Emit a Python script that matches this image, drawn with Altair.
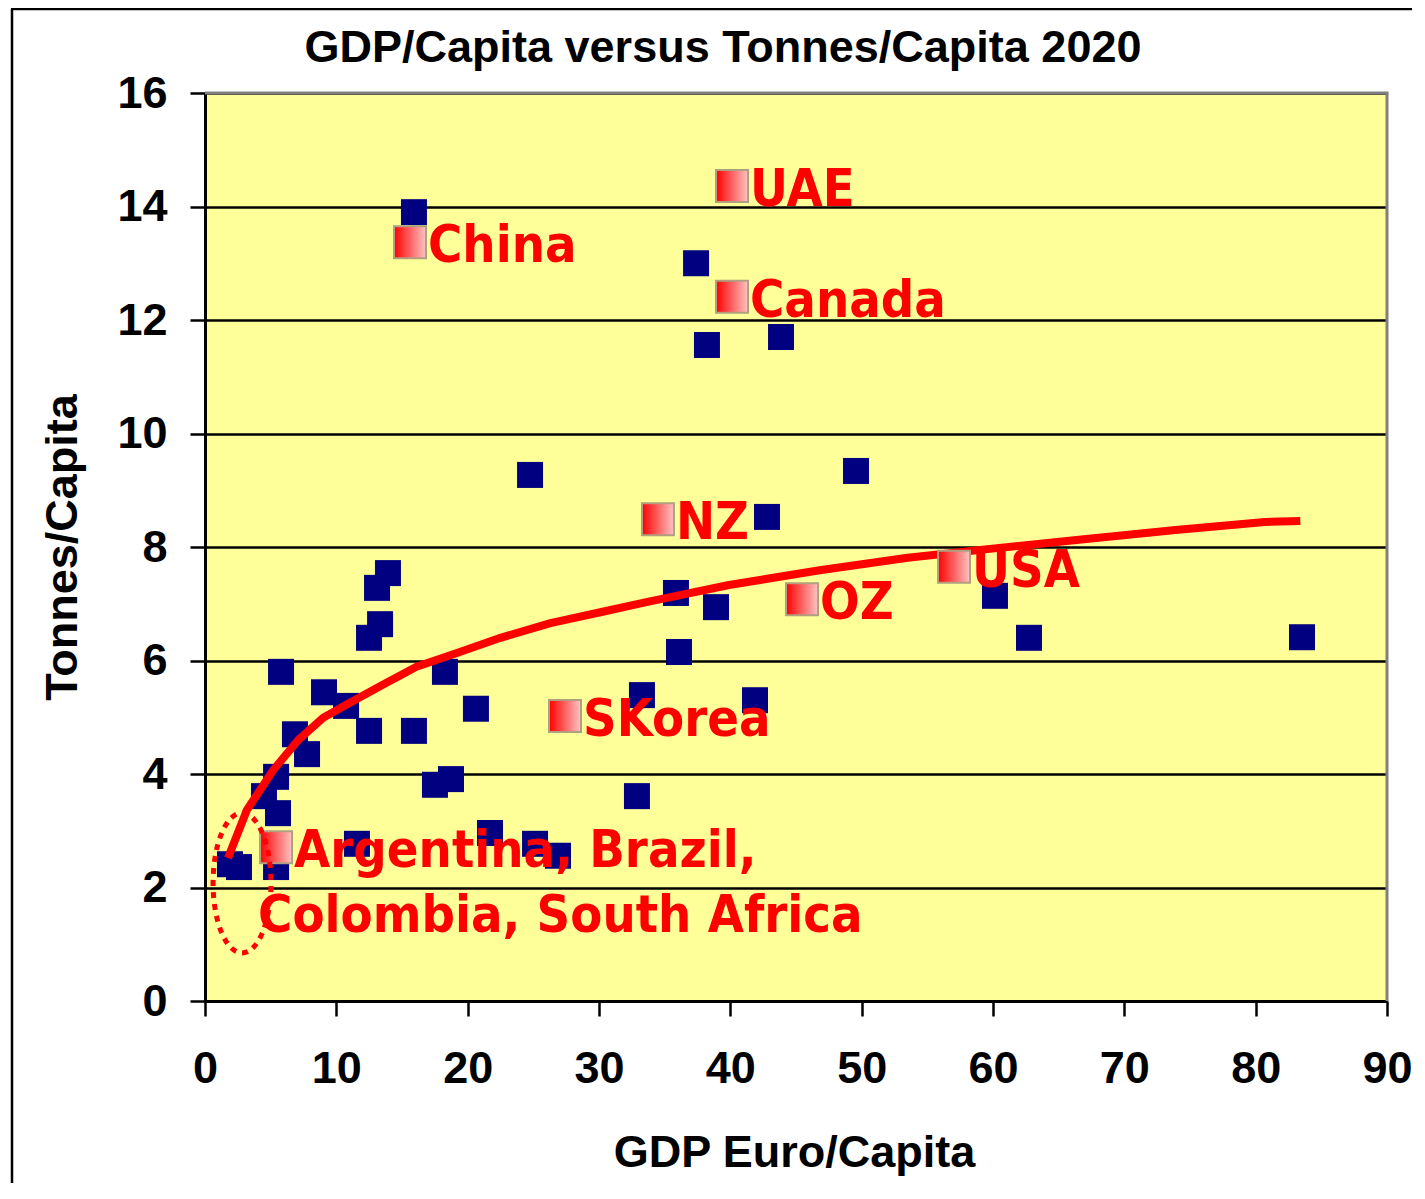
import altair as alt
import pandas as pd

# ---- data ----
gdp = [13.93, 13.10, 13.33, 12.49, 5.79, 9.06, 10.74, 12.49, 15.91, 18.27,
       20.63, 6.85, 7.77, 5.41, 4.49, 5.56, 17.51, 18.73, 11.57, 21.70,
       1.90, 2.59, 5.41, 25.13, 26.88,
       15.91, 37.39, 38.22, 43.86, 24.75, 42.79, 49.57,
       35.86, 38.91, 36.09, 33.27, 41.88, 32.89, 60.15, 62.74, 83.53]
tonnes = [7.54, 7.28, 6.64, 6.40, 5.80, 5.44, 5.20, 4.76, 4.76, 5.80,
          5.15, 4.70, 4.35, 3.95, 3.61, 3.31, 3.81, 3.91, 2.77, 2.96,
          2.41, 2.36, 2.36, 2.77, 2.56,
          13.90, 13.00, 11.56, 11.70, 9.27, 8.53, 9.34,
          7.19, 6.94, 6.15, 5.39, 5.30, 3.61, 7.14, 6.40, 6.41]

trend_gdp = [1.75, 3.2, 5.2, 7.1, 9.0, 11.0, 13.5, 16.1, 19.4, 22.5, 26.3,
             30.1, 33.6, 39.9, 46.8, 53.5, 60.3, 67.1, 73.9, 80.7, 83.4]
trend_tonnes = [2.52, 3.37, 4.07, 4.60, 4.99, 5.25, 5.57, 5.89, 6.15, 6.40, 6.66,
                6.85, 7.03, 7.33, 7.59, 7.81, 7.98, 8.14, 8.30, 8.44, 8.46]

label_names = ["China", "UAE", "Canada", "NZ", "SKorea", "OZ", "USA", "Argentina, Brazil,"]
label_gdp = [15.61, 40.13, 40.13, 34.49, 27.41, 45.46, 57.03, 5.41]
label_tonnes = [13.37, 14.36, 12.41, 8.49, 5.02, 7.08, 7.65, 2.71]
second_line = ["Colombia, South Africa"]
second_gdp = [5.41]
second_tonnes = [2.71]

ellipse_gdp = [2.82]
ellipse_tonnes = [2.08]

title_text = ["GDP/Capita versus Tonnes/Capita 2020"]

x_ticks = [0, 10, 20, 30, 40, 50, 60, 70, 80, 90]
y_ticks = [0, 2, 4, 6, 8, 10, 12, 14, 16]

W, H = 1182, 908
PAD = {"left": 197, "top": 85, "right": 25, "bottom": 182}

pts = pd.DataFrame({"gdp": gdp, "tonnes": tonnes})
trend = pd.DataFrame({"gdp": trend_gdp, "tonnes": trend_tonnes, "order": list(range(len(trend_gdp)))})
labels = pd.DataFrame({"gdp": label_gdp, "tonnes": label_tonnes, "name": label_names})
line2 = pd.DataFrame({"gdp": second_gdp, "tonnes": second_tonnes, "name": second_line})
ell = pd.DataFrame({"gdp": ellipse_gdp, "tonnes": ellipse_tonnes})
ttl = pd.DataFrame({"t": title_text})

X = alt.X("gdp:Q", scale=alt.Scale(domain=[0, 90], nice=False, zero=False),
          axis=alt.Axis(values=x_ticks, title="GDP Euro/Capita", grid=False,
                        labelPadding=30, labelFlush=False, titleX=589, titleY=165,
                        titleBaseline="alphabetic", titleAlign="center"))
Y = alt.Y("tonnes:Q", scale=alt.Scale(domain=[0, 16], nice=False),
          axis=alt.Axis(values=y_ticks, title="Tonnes/Capita", grid=True,
                        gridColor="black", gridWidth=2.5, labelPadding=23, labelFlush=False,
                        titleX=-129, titleY=454, titleAngle=-90,
                        titleBaseline="alphabetic", titleAlign="center"))

LABEL_FONT = "DejaVu Sans Condensed, DejaVu Sans"

squares = alt.Chart(pts).mark_square(size=676, color="#000080", opacity=1).encode(x=X, y=Y)

curve = alt.Chart(trend).mark_line(color="#FF0000", strokeWidth=8, strokeJoin="round",
                                   strokeCap="butt").encode(x=X, y=Y, order="order:Q")

grad = alt.LinearGradient(gradient="linear", x1=0, y1=0, x2=1, y2=0,
                          stops=[alt.GradientStop(color="#FF0000", offset=0),
                                 alt.GradientStop(color="#FFC4C4", offset=1)])
markers = alt.Chart(labels).mark_square(size=1024, fill=grad, stroke="#B0A080",
                                        strokeWidth=2, opacity=1).encode(x=X, y=Y)

texts = alt.Chart(labels).mark_text(align="left", baseline="alphabetic", dx=18, dy=20,
                                    font=LABEL_FONT, fontSize=52, fontWeight="bold",
                                    color="#FF0000").encode(x=X, y=Y, text="name:N")
texts2 = alt.Chart(line2).mark_text(align="left", baseline="alphabetic", dx=-18, dy=85,
                                    font=LABEL_FONT, fontSize=52, fontWeight="bold",
                                    color="#FF0000").encode(x=X, y=Y, text="name:N")

ellipse_path = "M0,-1 A0.414,1 0 1,1 0,1 A0.414,1 0 1,1 0,-1 Z"
ellipse = alt.Chart(ell).mark_point(shape=ellipse_path, size=19600, filled=False,
                                    stroke="#FF0000", strokeWidth=5, strokeDash=[6, 6],
                                    opacity=1).encode(x=X, y=Y)

title = alt.Chart(ttl).mark_text(align="center", baseline="alphabetic",
                                 font="Liberation Sans", fontSize=45, fontWeight="bold",
                                 color="black").encode(x=alt.value(518), y=alt.value(-31), text="t:N")

one = alt.Data(values=[{"k": 1}])
top_border = alt.Chart(one).mark_rule(color="#808080", strokeWidth=3).encode(
    x=alt.value(0), x2=alt.value(W + 1.5), y=alt.value(0))
right_border = alt.Chart(one).mark_rule(color="#808080", strokeWidth=3).encode(
    x=alt.value(W), y=alt.value(0), y2=alt.value(H))
frame_left = alt.Chart(one).mark_rule(color="black", strokeWidth=2.5).encode(
    x=alt.value(-193), y=alt.value(-84), y2=alt.value(H + PAD["bottom"]))
frame_top = alt.Chart(one).mark_rule(color="black", strokeWidth=2.5).encode(
    x=alt.value(-194), x2=alt.value(W + PAD["right"]), y=alt.value(-84))

chart = alt.layer(
    squares, curve, markers, texts, texts2, ellipse, title,
    top_border, right_border, frame_left, frame_top
).properties(
    width=W, height=H,
    padding=PAD,
    autosize=alt.AutoSizeParams(type="none"),
).configure_view(
    fill="#FFFF99", stroke=None
).configure_axis(
    domainColor="black", domainWidth=3, tickColor="black", tickWidth=2.5, tickSize=15,
    labelFont="Liberation Sans", labelFontSize=45, labelFontWeight="bold", labelColor="black",
    titleFont="Liberation Sans", titleFontSize=45, titleFontWeight="bold", titleColor="black",
)

chart.save("out.html", embed_options={"renderer": "svg", "actions": False})
